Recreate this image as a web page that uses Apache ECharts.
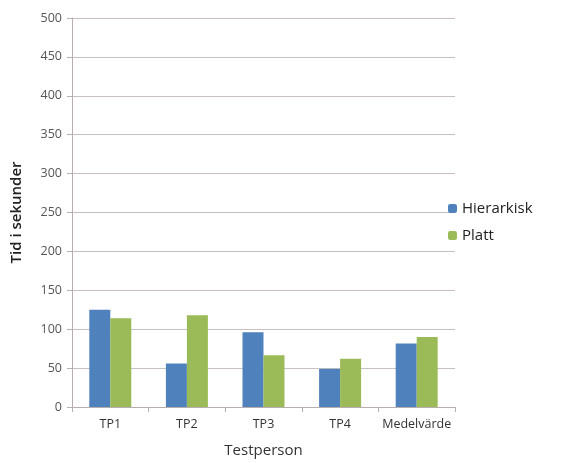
<!DOCTYPE html>
<html><head><meta charset="utf-8">
<script src="https://cdn.jsdelivr.net/npm/echarts@6/dist/echarts.min.js"></script>
<style>html,body{margin:0;padding:0;background:#fff}#c{width:576px;height:463px}</style>
</head><body><div id="c"></div>
<script>
const categories = ['TP1','TP2','TP3','TP4','Medelvärde'];
const hierarkisk = [125, 56, 96, 49, 81.5];
const platt = [114, 118, 66.5, 62, 90];
const yTicks = [0,50,100,150,200,250,300,350,400,450,500];

const chart = echarts.init(document.getElementById('c'));
const font = 'Open Sans, Noto Sans, sans-serif';
chart.setOption({
  animation:false,
  textStyle:{fontFamily:font},
  grid:{left:72,right:121,top:18,bottom:55,containLabel:false},
  legend:{orient:'vertical',left:443,top:196,itemWidth:9,itemHeight:9,itemGap:12,
    textStyle:{fontSize:15,color:'#222',fontFamily:font},
    data:['Hierarkisk','Platt']},
  xAxis:{type:'category',data:categories,
    name:'Testperson',nameLocation:'middle',nameGap:36,
    nameTextStyle:{fontSize:15,color:'#333'},
    axisLine:{lineStyle:{color:'#b9aeae'}},
    axisTick:{show:true,length:5,lineStyle:{color:'#b9aeae'}},
    axisLabel:{fontSize:12.5,color:'#333',margin:11,interval:0}},
  yAxis:{type:'value',min:0,max:500,interval:50,
    name:'Tid i sekunder',nameLocation:'middle',nameGap:48,
    nameTextStyle:{fontSize:15,color:'#222',fontWeight:600},
    axisLine:{show:true,lineStyle:{color:'#b9aeae'}},
    axisTick:{show:true,length:5,lineStyle:{color:'#b9aeae'}},
    axisLabel:{fontSize:12.5,color:'#555',margin:10,
      formatter:v=>yTicks.includes(v)?String(v):''},
    splitLine:{lineStyle:{color:'#c9c1c1'}}},
  series:[
    {name:'Hierarkisk',type:'bar',data:hierarkisk,barWidth:21,barGap:'0%',itemStyle:{color:'#4f81bd'}},
    {name:'Platt',type:'bar',data:platt,barWidth:21,barGap:'0%',itemStyle:{color:'#9bbb59'}}
  ]
});
</script></body></html>
